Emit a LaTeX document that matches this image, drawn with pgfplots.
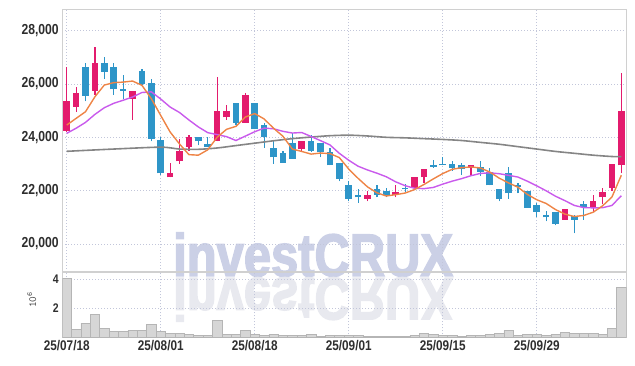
\documentclass[border=0pt]{standalone}
\usepackage{pgfplots}
\pgfplotsset{compat=1.18}
\usepackage{pgfplotstable}
\usepackage{fontspec}
\setmainfont{Liberation Sans}
\newfontfamily\cond{Liberation Sans}[FakeStretch=0.84]
\newfontfamily\wm{Liberation Sans Bold}[FakeStretch=0.815, FakeBold=2.4]
\definecolor{upred}{HTML}{E31B6D}
\definecolor{dnblue}{HTML}{2E95C8}
\definecolor{maorange}{HTML}{EE8446}
\definecolor{mapurple}{HTML}{C95AEC}
\definecolor{magray}{HTML}{858585}
\definecolor{gridc}{HTML}{C2C6DA}
\definecolor{framec}{HTML}{D0D0D0}
\definecolor{tickc}{HTML}{2E2E2E}
\definecolor{wmc}{HTML}{CBD0E6}
\definecolor{wmr}{HTML}{E8E9EF}
\definecolor{volfill}{HTML}{D6D6D6}
\definecolor{voledge}{HTML}{B5B5B5}

\pgfplotstableread{
x o h l c
0 24250 26650 24200 25350
1 25150 25900 24950 25650
3 25750 27400 25600 26800
7 25450 25750 24650 25750
11 22500 23050 22500 22650
12 23100 23950 23000 23500
13 23650 24100 23500 24000
16 23850 26250 23850 25000
17 24750 25200 24650 25000
19 24550 25650 24550 25600
25 23550 23850 23450 23850
32 21700 22000 21600 21850
35 21850 22200 21750 21950
37 22100 22500 22100 22500
38 22500 22800 22300 22800
43 22850 22950 22600 22950
53 20900 21300 20900 21300
56 21400 21850 21200 21600
57 21750 22100 21500 21950
58 22100 23000 22000 23000
59 22950 26400 22650 25000
}\up

\pgfplotstableread{
x o h l c
2 26650 26800 25350 25550
4 26800 27000 26200 26450
5 26650 26800 25600 25800
6 25800 26350 25450 25750
8 26500 26550 25950 26000
9 26050 26200 23850 23950
10 23900 24000 22600 22650
14 24000 24000 23700 23850
15 23750 24000 23650 23650
18 25300 25300 24450 24550
20 25300 25300 24300 24300
21 24450 24550 23600 24000
22 23600 23850 23000 23250
23 23400 23500 23050 23050
24 23800 24150 23200 23200
26 23850 24100 23450 23500
27 23800 23800 23250 23450
28 23450 23600 22950 22950
29 23050 23050 22350 22450
30 22200 22350 21600 21700
31 21850 22050 21550 21750
33 22050 22200 21750 21850
34 22000 22100 21750 21850
36 22100 22250 21950 22050
39 22950 23150 22850 22900
40 23000 23250 22950 22950
41 23000 23100 22750 22850
42 22950 23050 22600 22800
44 22900 23100 22550 22700
45 22700 22850 22200 22200
46 22050 22050 21600 21700
47 22650 22900 21700 21900
48 22200 22300 21900 22150
49 22000 22000 21350 21350
50 21450 21550 21000 21200
51 21100 21250 20850 21000
52 21200 21200 20700 20750
54 21050 21100 20400 20900
55 21500 21600 20900 21400
}\down

\pgfplotstableread{
x m5 m10
0 24460 24150
1 24710 24340
2 24960 24560
3 25520 24860
4 25960 25110
5 26050 25275
6 26070 25390
7 26110 25510
8 25950 25680
9 25450 25705
10 24820 25435
11 24200 25135
12 23750 24930
13 23350 24650
14 23330 24390
15 23530 24175
16 24000 24100
17 24300 24025
18 24410 23880
19 24760 24045
20 24890 24210
21 24690 24345
22 24340 24320
23 24040 24225
24 23560 24160
25 23470 24180
26 23370 24030
27 23410 23875
28 23390 23715
29 23240 23400
30 22810 23140
31 22460 22915
32 22140 22775
33 21920 22655
34 21800 22520
35 21850 22330
36 21910 22185
37 22040 22090
38 22230 22075
39 22440 22120
40 22640 22245
41 22800 22355
42 22860 22450
43 22890 22560
44 22850 22645
45 22700 22670
46 22470 22635
47 22290 22575
48 22130 22510
49 21860 22355
50 21660 22180
51 21520 21995
52 21290 21790
53 21120 21625
54 21030 21445
55 21070 21365
56 21190 21355
57 21430 21360
58 21760 21445
59 22580 21810
}\ma

\pgfplotstableread{
x m
0 23475
5 23560
10 23630
12 23560
14 23550
16 23600
18 23690
20 23780
22 23870
24 23950
26 24010
28 24060
30 24080
32 24050
34 24000
36 23980
38 23950
40 23920
42 23880
44 23810
46 23740
48 23650
50 23560
52 23470
54 23400
56 23330
58 23280
59 23275
}\malong

\pgfplotstableread{
x v
0 4.07
1 0.57
2 0.97
3 1.59
4 0.62
5 0.41
6 0.41
7 0.48
8 0.48
9 0.90
10 0.41
11 0.28
12 0.28
13 0.21
14 0.14
15 0.14
16 1.17
17 0.21
18 0.21
19 0.48
20 0.21
21 0.14
22 0.21
23 0.14
24 0.14
25 0.14
26 0.21
27 0.07
28 0.14
29 0.14
30 0.14
31 0.14
32 0.07
33 0.07
34 0.07
35 0.07
36 0.07
37 0.14
38 0.28
39 0.21
40 0.14
41 0.14
42 0.07
43 0.14
44 0.14
45 0.21
46 0.28
47 0.48
48 0.14
49 0.21
50 0.21
51 0.14
52 0.21
53 0.35
54 0.28
55 0.28
56 0.28
57 0.21
58 0.62
59 3.42
}\vol

\pgfplotsset{
  candle/.style 2 args={draw=none, mark=none, forget plot,
    error bars/.cd, y dir=plus, y explicit, error mark=none,
    error bar style={color=#1, draw=#1, line width=#2, solid}},
}

\begin{document}
\begin{tikzpicture}
\useasboundingbox (0pt,0pt) rectangle (635pt,366pt);
% watermark and its reflection
\node[anchor=base west, inner sep=0pt, text=wmc] at (173pt,90pt)
  {\wm\fontsize{60}{60}\selectfont investCRUX};
\node[anchor=base west, inner sep=0pt, text=wmr, yscale=-1] at (173pt,88pt)
  {\wm\fontsize{60}{60}\selectfont investCRUX};

\begin{axis}[
  at={(62.3pt,94pt)}, anchor=south west,
  scale only axis, width=564.4pt, height=262.7pt,
  xmin=-0.47, xmax=59.57, ymin=18950, ymax=28800,
  scaled y ticks=false, scaled x ticks=false,
  axis line style={framec, line width=0.8pt},
  xtick={0,10,20,30,40,50}, xticklabels={},
  ytick={20000,22000,24000,26000,28000},
  yticklabels={{20,000},{22,000},{24,000},{26,000},{28,000}},
  yticklabel style={font=\cond\bfseries\fontsize{14.5}{14.5}\selectfont, text=tickc},
  major tick length=0pt, tick style={draw=none},
  grid=major, major grid style={gridc, line width=0.6pt, dash pattern=on 1pt off 2pt},
]
% wicks
\addplot[candle={upred}{1.2pt}]
  table[x=x, y=l, y error plus expr=\thisrow{h}-\thisrow{l}] {\up};
\addplot[candle={dnblue}{1.2pt}]
  table[x=x, y=l, y error plus expr=\thisrow{h}-\thisrow{l}] {\down};
% bodies
\addplot[candle={upred}{6.5pt}]
  table[x=x, y=o, y error plus expr=\thisrow{c}-\thisrow{o}] {\up};
\addplot[candle={dnblue}{6.5pt}]
  table[x=x, y=c, y error plus expr=\thisrow{o}-\thisrow{c}] {\down};
% moving averages
\addplot[magray, line width=1.6pt, mark=none, smooth] table[x=x, y=m] {\malong};
\addplot[mapurple, line width=1.4pt, mark=none] table[x=x, y=m10] {\ma};
\addplot[maorange, line width=1.4pt, mark=none] table[x=x, y=m5] {\ma};
\end{axis}

\begin{axis}[
  at={(62.3pt,28.7pt)}, anchor=south west,
  scale only axis, width=564.4pt, height=65.6pt,
  xmin=-0.47, xmax=59.57, ymin=0, ymax=4.52,
  scaled y ticks=false, scaled x ticks=false,
  axis line style={framec, line width=0.8pt},
  xtick={0,10,20,30,40,50},
  xticklabels={25/07/18,25/08/01,25/08/18,25/09/01,25/09/15,25/09/29},
  xticklabel style={font=\cond\bfseries\fontsize{14}{14}\selectfont, text=tickc},
  ytick={2,4}, yticklabels={2,4},
  yticklabel style={font=\cond\bfseries\fontsize{12.5}{12.5}\selectfont, text=tickc},
  major tick length=0pt, tick style={draw=none},
  grid=major, major grid style={gridc, line width=0.6pt, dash pattern=on 1pt off 2pt},
  ylabel={\ttfamily\fontsize{11}{11}\selectfont 10\textsuperscript{6}},
  ylabel style={at={(axis description cs:-0.054,0.57)}, anchor=center, text=black!75},
]
\addplot[ybar, bar width=9.4pt, fill=volfill, draw=voledge, line width=0.5pt]
  table[x=x, y=v] {\vol};
\end{axis}
\end{tikzpicture}
\end{document}
